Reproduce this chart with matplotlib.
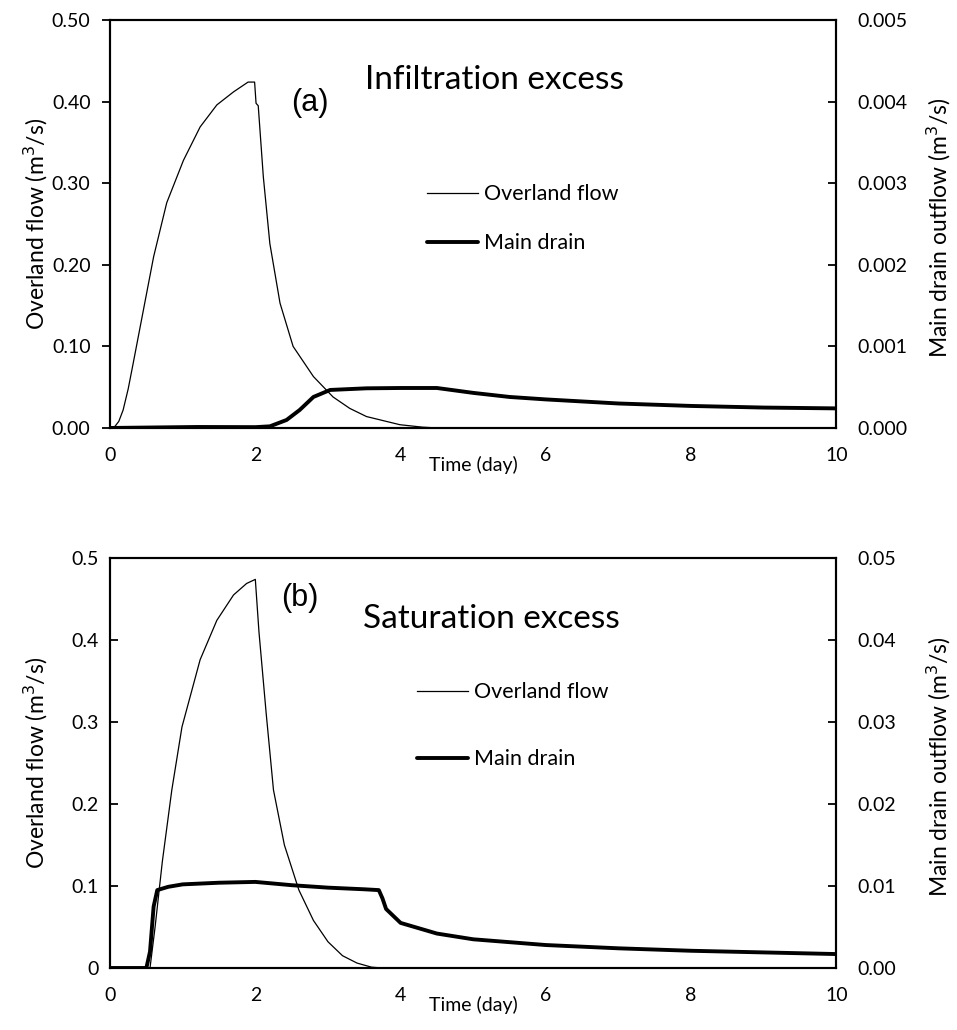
import matplotlib
matplotlib.use("Agg")
import matplotlib.pyplot as plt
import numpy as np

# ---- panel (a): infiltration excess ----
t_of_a = [0.0, 0.05, 0.12, 0.18, 0.25, 0.32, 0.46, 0.60, 0.78, 1.01, 1.24, 1.47, 1.70,
          1.90, 1.99, 2.01, 2.04, 2.11, 2.20, 2.34, 2.52, 2.80, 3.07, 3.30, 3.53, 3.99,
          4.3, 4.5, 10.0]
of_a = [0.0, 0.0, 0.008, 0.022, 0.048, 0.080, 0.145, 0.21, 0.276, 0.328, 0.369, 0.396,
        0.412, 0.424, 0.424, 0.398, 0.395, 0.308, 0.226, 0.153, 0.10, 0.063, 0.038, 0.024,
        0.014, 0.004, 0.001, 0.0, 0.0]

t_md_a = [0.0, 0.5, 1.2, 2.0, 2.2, 2.43, 2.61, 2.80, 3.03, 3.53, 4.0, 4.5, 5.0, 5.5, 6.0,
          7.0, 8.0, 9.0, 10.0]
md_a = [0.0, 0.000005, 0.000012, 0.00001, 0.00002, 0.000098, 0.00022, 0.00038, 0.000466,
        0.000486, 0.00049, 0.00049, 0.00043, 0.00038, 0.00035, 0.00030, 0.00027, 0.00025,
        0.00024]

# ---- panel (b): saturation excess ----
t_of_b = [0.0, 0.55, 0.62, 0.72, 0.85, 0.99, 1.24, 1.47, 1.70, 1.88, 2.0, 2.05, 2.15, 2.25,
          2.4, 2.6, 2.8, 3.0, 3.2, 3.4, 3.6, 3.75, 10.0]
of_b = [0.0, 0.0, 0.05, 0.13, 0.217, 0.294, 0.376, 0.424, 0.455, 0.469, 0.474, 0.41, 0.31,
        0.217, 0.15, 0.095, 0.058, 0.032, 0.015, 0.006, 0.001, 0.0, 0.0]

t_md_b = [0.0, 0.5, 0.55, 0.6, 0.65, 0.8, 1.0, 1.5, 2.0, 2.5, 3.0, 3.5, 3.7, 3.75, 3.8, 4.0,
          4.5, 5.0, 6.0, 7.0, 8.0, 9.0, 10.0]
md_b = [0.0, 0.0, 0.002, 0.0075, 0.0095, 0.0099, 0.0102, 0.0104, 0.0105, 0.0101, 0.0098,
        0.0096, 0.0095, 0.0085, 0.0072, 0.0055, 0.0042, 0.0035, 0.0028, 0.0024, 0.0021,
        0.0019, 0.0017]

plt.rcParams['font.family'] = ['Lato', 'DejaVu Sans']

fig = plt.figure(figsize=(9.57, 10.30), dpi=100)

panels = [
    dict(rect=[0.115, 0.5845, 0.759, 0.396], t_of=t_of_a, of=of_a, t_md=t_md_a, md=md_a,
         rmax=0.005, lfmt="{:.2f}", rfmt="{:.3f}", letter="(a)", title="Infiltration excess",
         ldir='out', letter_xy=(0.275, 0.797), title_xy=(0.351, 0.831),
         leg_xy=(0.436, 0.513), leg_sp=1.35),
    dict(rect=[0.115, 0.0602, 0.759, 0.398], t_of=t_of_b, of=of_b, t_md=t_md_b, md=md_b,
         rmax=0.05, lfmt="{:g}", rfmt="{:.2f}", letter="(b)", title="Saturation excess",
         ldir='in', letter_xy=(0.261, 0.902), title_xy=(0.348, 0.829),
         leg_xy=(0.422, 0.591), leg_sp=2.2),
]

for p in panels:
    ax = fig.add_axes(p['rect'])
    ax2 = ax.twinx()
    l1, = ax.plot(p['t_of'], p['of'], color='black', lw=0.9, label='Overland flow')
    l2, = ax2.plot(p['t_md'], p['md'], color='black', lw=2.8, label='Main drain',
                   solid_capstyle='round')
    ax.set_xlim(0, 10)
    ax.set_ylim(0, 0.5)
    ax2.set_ylim(0, p['rmax'])
    lt = np.linspace(0, 0.5, 6)
    ax.set_yticks(lt)
    ax.set_yticklabels([p['lfmt'].format(v) for v in lt])
    rt = np.linspace(0, p['rmax'], 6)
    ax2.set_yticks(rt)
    ax2.set_yticklabels([p['rfmt'].format(v) for v in rt])
    ax.set_xticks([0, 2, 4, 6, 8, 10])
    ax.tick_params(axis='x', length=0, labelsize=14, pad=14)
    ax.tick_params(axis='y', direction=p['ldir'], length=6, width=1.3, labelsize=14, pad=8)
    ax2.tick_params(axis='y', direction='in', length=6, width=1.3, labelsize=14, pad=15)
    for s in list(ax.spines.values()) + list(ax2.spines.values()):
        s.set_linewidth(1.5)
    ax.set_xlabel('Time (day)', fontsize=14, labelpad=-6)
    ax.set_ylabel('Overland flow (m$^3$/s)', fontsize=16.5)
    ax2.set_ylabel('Main drain outflow (m$^3$/s)', fontsize=16.5)
    ax.yaxis.set_label_coords(-0.083, 0.5)
    ax2.yaxis.set_label_coords(1.122, 0.49)
    ax.text(*p['letter_xy'], p['letter'], transform=ax.transAxes, fontsize=22,
            family=['Liberation Sans', 'DejaVu Sans'], ha='center', va='center')
    ax.text(*p['title_xy'], p['title'], transform=ax.transAxes, fontsize=24, ha='left',
            va='baseline')
    ax.legend(handles=[l1, l2], loc='center left', bbox_to_anchor=p['leg_xy'],
              frameon=False, fontsize=15.5, handlelength=2.37, handletextpad=0.28,
              labelspacing=p['leg_sp'], borderaxespad=0, borderpad=0)

fig.savefig('out.png', dpi=100)
